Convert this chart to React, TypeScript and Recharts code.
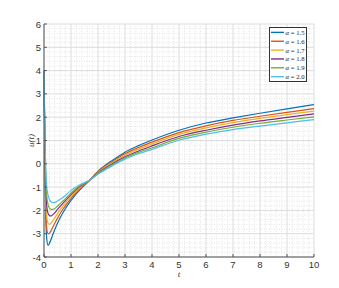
import {
  LineChart, Line, XAxis, YAxis, CartesianGrid, ReferenceLine, Legend,
} from 'recharts';

// time samples (denser near t = 0 where the dip happens)
const tValues = [0, 0.03, 0.06, 0.1, 0.15, 0.2, 0.25, 0.3, 0.4, 0.5, 0.7, 1, 1.3, 1.7, 2, 2.5, 3, 3.5, 4, 5, 6, 7, 8, 9, 10];

const alpha15 = [4, 0.6, -1.9, -3.2, -3.5, -3.42, -3.28, -3.12, -2.82, -2.55, -2.1, -1.57, -1.15, -0.7, -0.32, 0.12, 0.5, 0.78, 1.02, 1.44, 1.75, 1.97, 2.17, 2.36, 2.54];
const alpha16 = [4, 0.9, -1.5, -2.75, -3.0, -2.98, -2.9, -2.78, -2.55, -2.33, -1.95, -1.48, -1.1, -0.7, -0.34, 0.07, 0.43, 0.7, 0.93, 1.34, 1.63, 1.86, 2.04, 2.21, 2.37];
const alpha17 = [4, 1.1, -1.1, -2.25, -2.55, -2.6, -2.56, -2.49, -2.32, -2.14, -1.82, -1.4, -1.05, -0.7, -0.36, 0.03, 0.37, 0.63, 0.85, 1.26, 1.54, 1.77, 1.95, 2.11, 2.26];
const alpha18 = [4, 1.25, -0.7, -1.8, -2.13, -2.22, -2.24, -2.21, -2.1, -1.96, -1.7, -1.32, -1.0, -0.7, -0.39, -0.02, 0.3, 0.55, 0.77, 1.17, 1.44, 1.66, 1.84, 1.99, 2.14];
const alpha19 = [4, 1.4, -0.35, -1.35, -1.75, -1.9, -1.95, -1.96, -1.92, -1.82, -1.6, -1.25, -0.96, -0.7, -0.42, -0.06, 0.25, 0.49, 0.69, 1.09, 1.36, 1.57, 1.74, 1.88, 2.01];
const alpha20 = [4, 1.5, 0, -0.95, -1.35, -1.53, -1.62, -1.66, -1.66, -1.6, -1.45, -1.14, -0.92, -0.7, -0.45, -0.1, 0.2, 0.43, 0.62, 1.01, 1.27, 1.47, 1.62, 1.76, 1.9];

const seriesKeys = ['a15', 'a16', 'a17', 'a18', 'a19', 'a20'];
const seriesLabels = ['1.5', '1.6', '1.7', '1.8', '1.9', '2.0'];
const seriesColors = ['#0072BD', '#D95319', '#EDB120', '#7E2F8E', '#77AC30', '#4DBEEE'];

const xTicks = [0, 1, 2, 3, 4, 5, 6, 7, 8, 9, 10];
const yTicks = [-4, -3, -2, -1, 0, 1, 2, 3, 4, 5, 6];

const allSeries = [alpha15, alpha16, alpha17, alpha18, alpha19, alpha20];
const data = tValues.map((t, i) => {
  const row: Record<string, number> = { t };
  seriesKeys.forEach((k, j) => { row[k] = allSeries[j][i]; });
  return row;
});

// minor grid every 0.2
const xMinor: number[] = [];
for (let i = 1; i < 50; i++) if (i % 5 !== 0) xMinor.push(i * 0.2);
const yMinor: number[] = [];
for (let i = 1; i < 50; i++) if (i % 5 !== 0) yMinor.push(-4 + i * 0.2);

const tickFont = '"Liberation Sans", Helvetica, Arial, sans-serif';
const mathFont = '"Liberation Serif", "DejaVu Serif", serif';
const axisColor = '#555';

const BottomTick = (props: any) => {
  const { x, y, payload } = props;
  return (
    <g>
      <line x1={x} y1={y} x2={x} y2={y - 3} stroke={axisColor} />
      <text x={x} y={y + 11} textAnchor="middle" fontSize={9.5} fontFamily={tickFont} fill="#333">{payload.value}</text>
    </g>
  );
};
const LeftTick = (props: any) => {
  const { x, y, payload } = props;
  return (
    <g>
      <line x1={x} y1={y} x2={x + 3} y2={y} stroke={axisColor} />
      <text x={x - 3} y={y + 3.5} textAnchor="end" fontSize={9.5} fontFamily={tickFont} fill="#333">{payload.value}</text>
    </g>
  );
};
const TopTick = (props: any) => (
  <line x1={props.x} y1={props.y} x2={props.x} y2={props.y + 3} stroke={axisColor} />
);
const RightTick = (props: any) => (
  <line x1={props.x} y1={props.y} x2={props.x - 3} y2={props.y} stroke={axisColor} />
);

const LegendBox = (props: any) => {
  const payload = props.payload || [];
  const rowH = 8.85;
  return (
    <svg width={38} height={55} style={{ display: 'block' }}>
      <rect x={0.5} y={0.5} width={37} height={54} fill="#fff" stroke="#333" strokeWidth={1} />
      {payload.map((p: any, i: number) => {
        const cy = 5.4 + i * rowH;
        return (
          <g key={i}>
            <line x1={2} y1={cy} x2={15} y2={cy} stroke={p.color} strokeWidth={1.4} />
            <text x={16.5} y={cy + 2.5} fontSize={7} fontFamily={mathFont} fill="#222"
              textLength={19} lengthAdjust="spacingAndGlyphs">
              <tspan fontStyle="italic">α</tspan> = {seriesLabels[i]}
            </text>
          </g>
        );
      })}
    </svg>
  );
};

export default function App() {
  return (
    <div style={{ position: 'absolute', left: 0, top: 0, background: '#fff' }}>
      <LineChart width={339} height={288} data={data} margin={{ top: 24, right: 25, bottom: 6, left: 16 }}>
        {xMinor.map((v) => (
          <ReferenceLine key={'xm' + v} x={v} stroke="#e4e4e4" strokeDasharray="1 1.5" />
        ))}
        {yMinor.map((v) => (
          <ReferenceLine key={'ym' + v} y={v} stroke="#e4e4e4" strokeDasharray="1 1.5" />
        ))}
        <CartesianGrid stroke="#dcdcdc" />
        <XAxis
          dataKey="t" type="number" domain={[0, 10]} ticks={xTicks} interval={0}
          height={25} tickSize={0} tickMargin={0} stroke={axisColor} tick={<BottomTick />}
          label={{ value: 't', position: 'insideBottom', offset: 5, fontFamily: mathFont, fontStyle: 'italic', fontSize: 9, fill: '#333' }}
        />
        <XAxis
          xAxisId="top" orientation="top" dataKey="t" type="number" domain={[0, 10]} ticks={xTicks}
          interval={0} height={0} tickSize={0} tickMargin={0} stroke={axisColor} tick={<TopTick />}
        />
        <YAxis
          type="number" domain={[-4, 6]} ticks={yTicks} interval={0} width={28}
          tickSize={0} tickMargin={0} stroke={axisColor} tick={<LeftTick />}
          label={{ value: 'u(t)', angle: -90, position: 'center', dx: 1, fontFamily: mathFont, fontStyle: 'italic', fontSize: 9, fill: '#333' }}
        />
        <YAxis
          yAxisId="right" orientation="right" type="number" domain={[-4, 6]} ticks={yTicks} interval={0}
          width={0} tickSize={0} tickMargin={0} stroke={axisColor} tick={<RightTick />}
        />
        {seriesKeys.map((k, i) => (
          <Line
            key={k} type="monotone" dataKey={k} name={'α = ' + seriesLabels[i]}
            stroke={seriesColors[i]} strokeWidth={1.2} dot={false} isAnimationActive={false}
          />
        ))}
        <Legend
          layout="vertical" align="center" verticalAlign="middle"
          content={<LegendBox />}
          wrapperStyle={{ position: 'absolute', left: 269, top: 27, width: 38, height: 55 }}
        />
      </LineChart>
    </div>
  );
}
